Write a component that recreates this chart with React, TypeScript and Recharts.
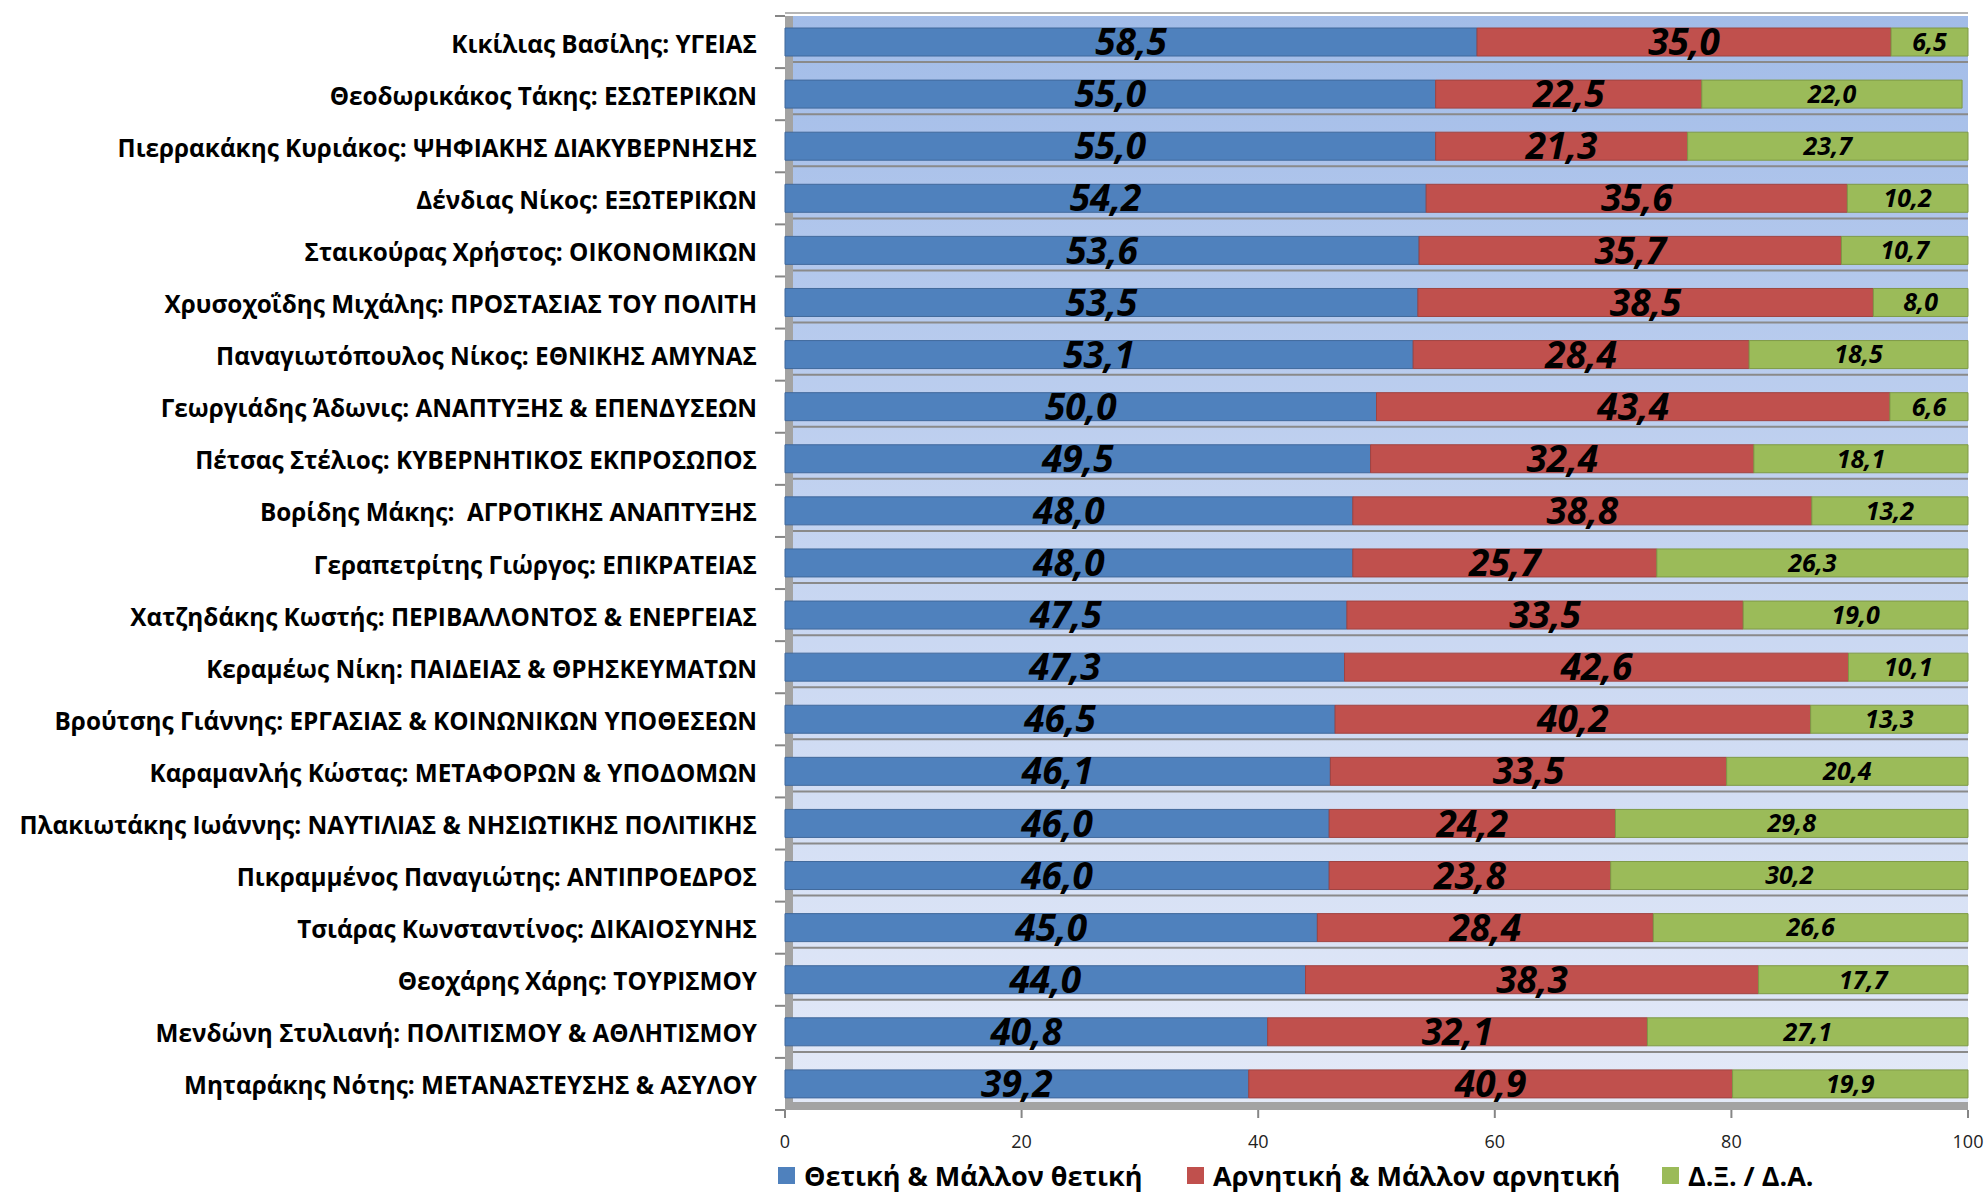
import { BarChart, Bar, XAxis, YAxis, CartesianGrid, LabelList, Legend } from 'recharts'

const ministers = [
  'Κικίλιας Βασίλης: ΥΓΕΙΑΣ',
  'Θεοδωρικάκος Τάκης: ΕΣΩΤΕΡΙΚΩΝ',
  'Πιερρακάκης Κυριάκος: ΨΗΦΙΑΚΗΣ ΔΙΑΚΥΒΕΡΝΗΣΗΣ',
  'Δένδιας Νίκος: ΕΞΩΤΕΡΙΚΩΝ',
  'Σταικούρας Χρήστος: ΟΙΚΟΝΟΜΙΚΩΝ',
  'Χρυσοχοΐδης Μιχάλης: ΠΡΟΣΤΑΣΙΑΣ ΤΟΥ ΠΟΛΙΤΗ',
  'Παναγιωτόπουλος Νίκος: ΕΘΝΙΚΗΣ ΑΜΥΝΑΣ',
  'Γεωργιάδης Άδωνις: ΑΝΑΠΤΥΞΗΣ & ΕΠΕΝΔΥΣΕΩΝ',
  'Πέτσας Στέλιος: ΚΥΒΕΡΝΗΤΙΚΟΣ ΕΚΠΡΟΣΩΠΟΣ',
  'Βορίδης Μάκης:  ΑΓΡΟΤΙΚΗΣ ΑΝΑΠΤΥΞΗΣ',
  'Γεραπετρίτης Γιώργος: ΕΠΙΚΡΑΤΕΙΑΣ',
  'Χατζηδάκης Κωστής: ΠΕΡΙΒΑΛΛΟΝΤΟΣ & ΕΝΕΡΓΕΙΑΣ',
  'Κεραμέως Νίκη: ΠΑΙΔΕΙΑΣ & ΘΡΗΣΚΕΥΜΑΤΩΝ',
  'Βρούτσης Γιάννης: ΕΡΓΑΣΙΑΣ & ΚΟΙΝΩΝΙΚΩΝ ΥΠΟΘΕΣΕΩΝ',
  'Καραμανλής Κώστας: ΜΕΤΑΦΟΡΩΝ & ΥΠΟΔΟΜΩΝ',
  'Πλακιωτάκης Ιωάννης: ΝΑΥΤΙΛΙΑΣ & ΝΗΣΙΩΤΙΚΗΣ ΠΟΛΙΤΙΚΗΣ',
  'Πικραμμένος Παναγιώτης: ΑΝΤΙΠΡΟΕΔΡΟΣ',
  'Τσιάρας Κωνσταντίνος: ΔΙΚΑΙΟΣΥΝΗΣ',
  'Θεοχάρης Χάρης: ΤΟΥΡΙΣΜΟΥ',
  'Μενδώνη Στυλιανή: ΠΟΛΙΤΙΣΜΟΥ & ΑΘΛΗΤΙΣΜΟΥ',
  'Μηταράκης Νότης: ΜΕΤΑΝΑΣΤΕΥΣΗΣ & ΑΣΥΛΟΥ',
]

const positive = [58.5, 55.0, 55.0, 54.2, 53.6, 53.5, 53.1, 50.0, 49.5, 48.0, 48.0, 47.5, 47.3, 46.5, 46.1, 46.0, 46.0, 45.0, 44.0, 40.8, 39.2]
const negative = [35.0, 22.5, 21.3, 35.6, 35.7, 38.5, 28.4, 43.4, 32.4, 38.8, 25.7, 33.5, 42.6, 40.2, 33.5, 24.2, 23.8, 28.4, 38.3, 32.1, 40.9]
const undecided = [6.5, 22.0, 23.7, 10.2, 10.7, 8.0, 18.5, 6.6, 18.1, 13.2, 26.3, 19.0, 10.1, 13.3, 20.4, 29.8, 30.2, 26.6, 17.7, 27.1, 19.9]

const xTicks = [0, 20, 40, 60, 80, 100]

const series = [
  { key: 'positive', label: 'Θετική & Μάλλον θετική', color: '#4f81bd', edge: '#41699c' },
  { key: 'negative', label: 'Αρνητική & Μάλλον αρνητική', color: '#c0504d', edge: '#a04340' },
  { key: 'undecided', label: 'Δ.Ξ. / Δ.Α.', color: '#9bbb59', edge: '#7e9a46' },
]

const data = ministers.map((name, i) => ({
  name,
  positive: positive[i],
  negative: negative[i],
  undecided: undecided[i],
}))

const FONT = '"Open Sans", "DejaVu Sans", sans-serif'
const fmt = (v: number) => v.toFixed(1).replace('.', ',')

// y labels plus little tick marks at the band edges (excel style)
function MinisterTick(props: any) {
  const { x, y, payload, index, height, visibleTicksCount } = props
  const band = height / visibleTicksCount
  const axisX = x + 28
  return (
    <g>
      <line x1={axisX - 10} x2={axisX} y1={y - band / 2} y2={y - band / 2} stroke="#868686" strokeWidth={2} />
      {index === visibleTicksCount - 1 && (
        <line x1={axisX - 10} x2={axisX} y1={y + band / 2} y2={y + band / 2} stroke="#868686" strokeWidth={2} />
      )}
      <text
        x={x}
        y={y + 1}
        textAnchor="end"
        dominantBaseline="central"
        fontFamily={FONT}
        fontWeight={700}
        fontSize={24.3}
        fill="#000"
        style={{ whiteSpace: 'pre' }}
      >
        {payload.value}
      </text>
    </g>
  )
}

function LegendBox() {
  const widths = [409, 475, 300]
  return (
    <div style={{ display: 'flex', alignItems: 'center', height: 40, paddingLeft: 778, fontFamily: FONT }}>
      {series.map((s, i) => (
        <div key={s.key} style={{ display: 'flex', alignItems: 'center', width: widths[i] }}>
          <span style={{ width: 17, height: 17, background: s.color, marginRight: 9, display: 'inline-block' }} />
          <span style={{ fontSize: 27, fontWeight: 700, color: '#000', whiteSpace: 'nowrap' }}>{s.label}</span>
        </div>
      ))}
    </div>
  )
}

export default function App() {
  const rows = ministers.length
  return (
    <div style={{ width: 1984, height: 1195, background: '#fff' }}>
      <style>{'body{margin:0}'}</style>
      <BarChart
        width={1984}
        height={1195}
        data={data}
        layout="vertical"
        barCategoryGap={24}
        margin={{ top: 16, right: 16, bottom: 0, left: 0 }}
      >
        <defs>
          <linearGradient id="wall" x1="0" y1="0" x2="0" y2="1">
            <stop offset="0%" stopColor="#a2bce8" />
            <stop offset="50%" stopColor="#c6d5f1" />
            <stop offset="100%" stopColor="#e4eaf8" />
          </linearGradient>
        </defs>
        <CartesianGrid
          vertical={false}
          fill="url(#wall)"
          stroke="#8a8a8a"
          strokeWidth={2}
          horizontalCoordinatesGenerator={({ offset }: any) =>
            Array.from({ length: rows - 1 }, (_, i) => offset.top + ((i + 1) * offset.height) / rows - 6)
          }
        />
        <CartesianGrid
          stroke="#a3a3a3"
          strokeWidth={8}
          horizontalCoordinatesGenerator={({ offset }: any) => [offset.top + offset.height - 4]}
          verticalCoordinatesGenerator={({ offset }: any) => [offset.left + 4]}
        />
        <CartesianGrid
          vertical={false}
          stroke="#b5b5b5"
          strokeWidth={2}
          horizontalCoordinatesGenerator={({ offset }: any) => [offset.top - 3]}
        />
        <XAxis
          type="number"
          domain={[0, 100]}
          ticks={xTicks}
          height={45}
          tickSize={8}
          tickMargin={17}
          axisLine={false}
          tickLine={{ stroke: '#868686', strokeWidth: 2 }}
          tick={{ fontFamily: FONT, fontSize: 18, fill: '#222' }}
        />
        <YAxis
          type="category"
          dataKey="name"
          width={785}
          tickSize={10}
          tickMargin={18}
          axisLine={false}
          tickLine={false}
          interval={0}
          tick={<MinisterTick />}
        />
        {series.map((s) => (
          <Bar
            key={s.key}
            dataKey={s.key}
            name={s.label}
            stackId="a"
            fill={s.color}
            stroke={s.edge}
            strokeWidth={1}
            barSize={28}
            isAnimationActive={false}
          >
            <LabelList
              dataKey={s.key}
              position="center"
              formatter={(v: any) => fmt(Number(v))}
              fill="#000"
              fontFamily={FONT}
              fontWeight={700}
              fontStyle="italic"
              fontSize={s.key === 'undecided' ? 25 : 37}
            />
          </Bar>
        ))}
        <Legend verticalAlign="bottom" content={<LegendBox />} wrapperStyle={{ left: 0, width: 1984, bottom: 0 }} />
      </BarChart>
    </div>
  )
}
